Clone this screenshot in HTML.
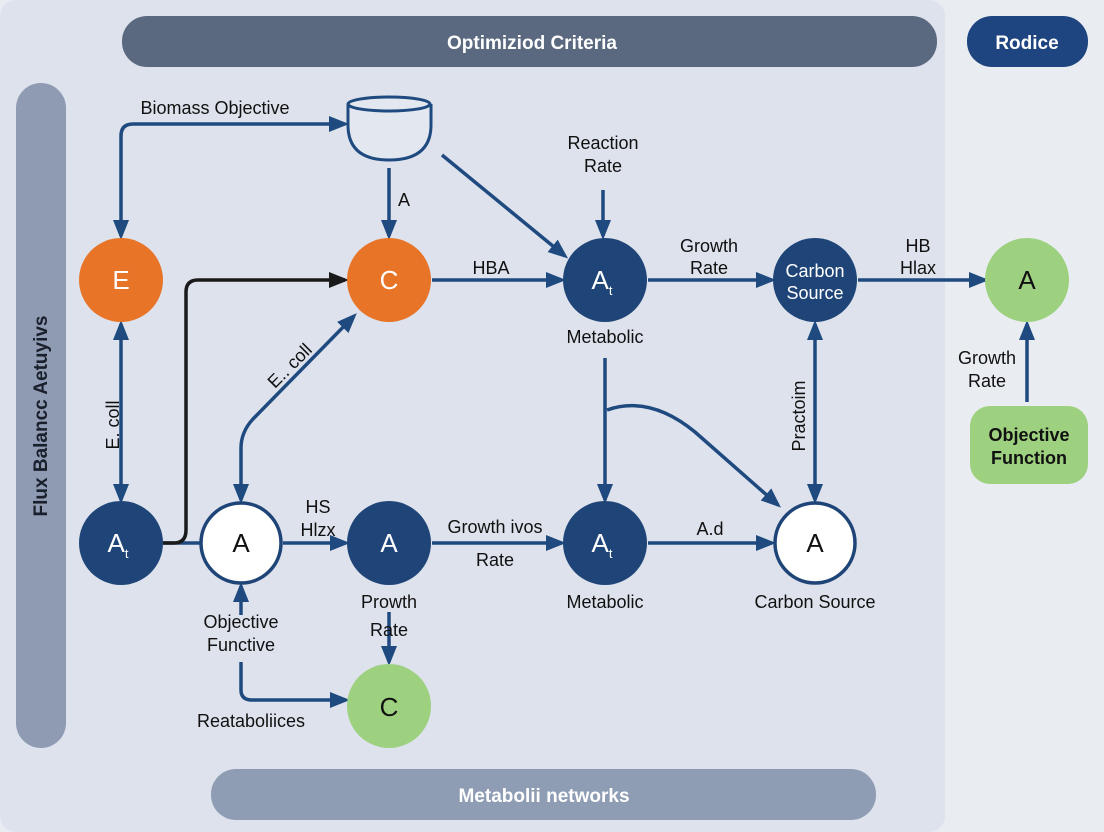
<!DOCTYPE html>
<html><head><meta charset="utf-8"><style>
html,body{margin:0;padding:0;background:#e9edf2;}
svg{display:block;font-family:"Liberation Sans",sans-serif;}
</style></head><body>
<svg width="1104" height="832" viewBox="0 0 1104 832" xmlns="http://www.w3.org/2000/svg">
<defs>
<marker id="ab" markerWidth="20" markerHeight="20" refX="16" refY="10" orient="auto-start-reverse" markerUnits="userSpaceOnUse" viewBox="0 0 20 20"><path d="M0,2 L20,10 L0,18 z" fill="#1f4a80"/></marker>
<marker id="k" markerWidth="20" markerHeight="20" refX="16" refY="10" orient="auto" markerUnits="userSpaceOnUse" viewBox="0 0 20 20"><path d="M0,2 L20,10 L0,18 z" fill="#1a1a1a"/></marker>
</defs>
<rect x="0" y="0" width="1104" height="832" fill="#e9edf2"/>
<rect x="0" y="0" width="945" height="832" rx="16" fill="#dde2ec"/>
<rect x="122" y="16" width="815" height="51" rx="25" fill="#5a6880"/>
<text x="532" y="49" font-size="19" font-weight="bold" fill="#fff" text-anchor="middle">Optimiziod Criteria</text>
<rect x="967" y="16" width="121" height="51" rx="25" fill="#1f4580"/>
<text x="1027" y="49" font-size="19" font-weight="bold" fill="#fff" text-anchor="middle">Rodice</text>
<rect x="16" y="83" width="50" height="665" rx="25" fill="#8e9bb3"/>
<text transform="translate(47,416) rotate(-90)" font-size="19" font-weight="bold" fill="#1a1f2c" text-anchor="middle">Flux Balancc Aetuyivs</text>
<rect x="211" y="769" width="665" height="51" rx="25" fill="#8e9cb4"/>
<text x="544" y="802" font-size="19" font-weight="bold" fill="#fff" text-anchor="middle">Metabolii networks</text>

<g stroke="#1f4a80" stroke-width="3.5" fill="none">
<path d="M121,236 V136 Q121,124 133,124 H345" marker-start="url(#ab)" marker-end="url(#ab)"/>
<path d="M389,168 V236" marker-end="url(#ab)"/>
<path d="M442,155 L565,256" marker-end="url(#ab)"/>
<path d="M603,190 V236" marker-end="url(#ab)"/>
<path d="M432,280 H562" marker-end="url(#ab)"/>
<path d="M648,280 H772" marker-end="url(#ab)"/>
<path d="M858,280 H985" marker-end="url(#ab)"/>
<path d="M1027,402 V324" marker-end="url(#ab)"/>
<path d="M815,324 V500" marker-start="url(#ab)" marker-end="url(#ab)"/>
<path d="M121,324 V500" marker-start="url(#ab)" marker-end="url(#ab)"/>
<path d="M241,500 V448 Q241,432 253,419 L354,316" marker-start="url(#ab)" marker-end="url(#ab)"/>
<path d="M163,543 H200"/>
<path d="M283,543 H346" marker-end="url(#ab)"/>
<path d="M432,543 H562" marker-end="url(#ab)"/>
<path d="M648,543 H772" marker-end="url(#ab)"/>
<path d="M605,358 V500" marker-end="url(#ab)"/>
<path d="M607,410 Q650,395 695,432 L778,505" marker-end="url(#ab)"/>
<path d="M241,586 V615" marker-start="url(#ab)"/>
<path d="M241,662 V690 Q241,700 252,700 H346" marker-end="url(#ab)"/>
<path d="M389,612 V662" marker-end="url(#ab)"/>
</g>
<path d="M163,543 H174 Q186,543 186,530 V292 Q186,280 198,280 H345" stroke="#1a1a1a" stroke-width="3.5" fill="none" marker-end="url(#k)"/>

<!-- cup -->
<g stroke="#1f4a80" stroke-width="3" fill="#e3e7ef">
<path d="M348,104 V125 Q348,160 389,160 Q431,160 431,125 V104"/>
<ellipse cx="389" cy="104" rx="41" ry="7"/>
</g>

<g font-size="26" text-anchor="middle">
<circle cx="121" cy="280" r="42" fill="#e87428"/><text x="121" y="289" fill="#fff">E</text>
<circle cx="389" cy="280" r="42" fill="#e87428"/><text x="389" y="289" fill="#fff">C</text>
<circle cx="605" cy="280" r="42" fill="#1f4578"/><text x="602" y="289" fill="#fff">A<tspan font-size="13" dy="6">t</tspan></text>
<circle cx="815" cy="280" r="42" fill="#1f4578"/>
<text x="815" y="277" font-size="18" fill="#fff">Carbon</text><text x="815" y="299" font-size="18" fill="#fff">Source</text>
<circle cx="1027" cy="280" r="42" fill="#9dd17f"/><text x="1027" y="289" fill="#111">A</text>
<circle cx="121" cy="543" r="42" fill="#1f4578"/><text x="118" y="552" fill="#fff">A<tspan font-size="13" dy="6">t</tspan></text>
<circle cx="241" cy="543" r="40" fill="#fff" stroke="#1f4578" stroke-width="3.5"/><text x="241" y="552" fill="#111">A</text>
<circle cx="389" cy="543" r="42" fill="#1f4578"/><text x="389" y="552" fill="#fff">A</text>
<circle cx="605" cy="543" r="42" fill="#1f4578"/><text x="602" y="552" fill="#fff">A<tspan font-size="13" dy="6">t</tspan></text>
<circle cx="815" cy="543" r="40" fill="#fff" stroke="#1f4578" stroke-width="3.5"/><text x="815" y="552" fill="#111">A</text>
<circle cx="389" cy="706" r="42" fill="#9dd17f"/><text x="389" y="716" fill="#111">C</text>
</g>
<rect x="970" y="406" width="118" height="78" rx="20" fill="#9dd17f"/>
<text x="1029" y="441" font-size="18" font-weight="bold" fill="#111" text-anchor="middle">Objective</text>
<text x="1029" y="464" font-size="18" font-weight="bold" fill="#111" text-anchor="middle">Function</text>

<g font-size="18" fill="#111" text-anchor="middle">
<text x="215" y="114">Biomass Objective</text>
<text x="404" y="206">A</text>
<text x="603" y="149">Reaction</text><text x="603" y="172">Rate</text>
<text x="491" y="274">HBA</text>
<text x="709" y="252">Growth</text><text x="709" y="274">Rate</text>
<text x="918" y="252">HB</text><text x="918" y="274">Hlax</text>
<text x="987" y="364">Growth</text><text x="987" y="387">Rate</text>
<text x="605" y="343">Metabolic</text>
<text transform="translate(805,416) rotate(-90)">Practoim</text>
<text transform="translate(119,425) rotate(-90)">E. coll</text>
<text transform="translate(294,370) rotate(-45)">E.. coll</text>
<text x="318" y="513">HS</text><text x="318" y="536">Hlzx</text>
<text x="495" y="533">Growth ivos</text><text x="495" y="566">Rate</text>
<text x="710" y="535">A.d</text>
<text x="605" y="608">Metabolic</text>
<text x="815" y="608">Carbon Source</text>
<text x="389" y="608">Prowth</text><text x="389" y="636">Rate</text>
<text x="241" y="628">Objective</text><text x="241" y="651">Functive</text>
<text x="251" y="727">Reataboliices</text>
</g>
</svg>
</body></html>
